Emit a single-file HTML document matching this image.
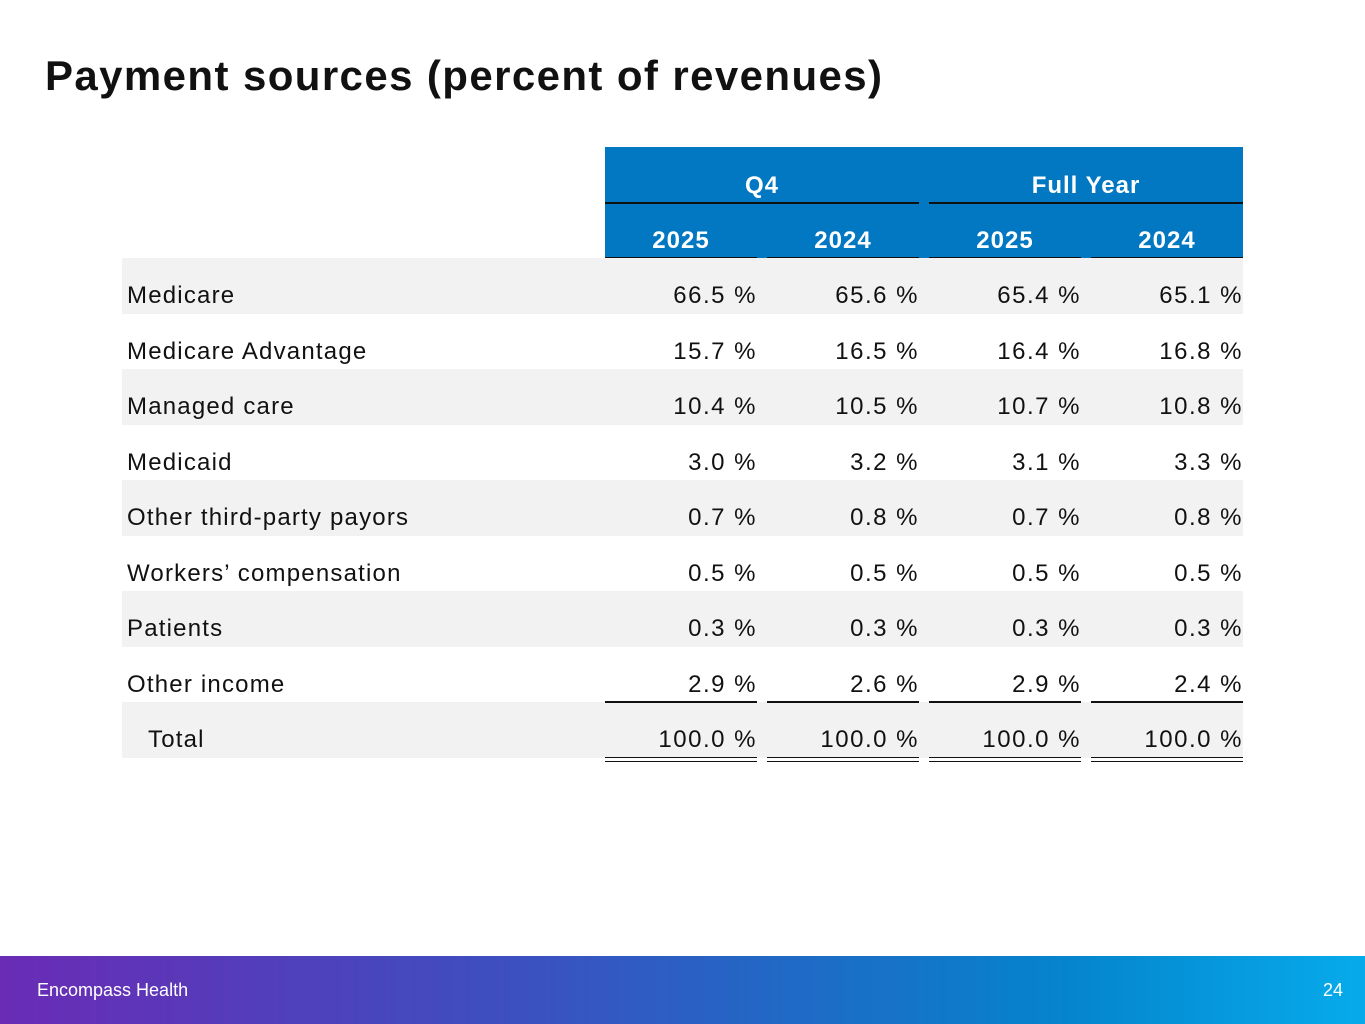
<!DOCTYPE html>
<html><head><meta charset="utf-8"><style>
body{margin:0;width:1365px;height:1024px;position:relative;background:#fff;font-family:"Liberation Sans",sans-serif;overflow:hidden}
.a{position:absolute}
#title{left:45px;top:52px;font-size:42px;letter-spacing:1.4px;font-weight:bold;color:#111;white-space:nowrap}
.hdr{background:#0277c2}
.ht{color:#fff;font-size:24px;font-weight:bold;text-align:center;letter-spacing:1px}
.row{left:122px;width:1121px;height:55.5px}
.lab{font-size:24px;color:#111;white-space:nowrap;letter-spacing:1.2px}
.val{font-size:24px;color:#111;text-align:right;width:152px;white-space:nowrap;letter-spacing:1.5px}
.ln{height:2px;background:#111}
#footer{left:0;top:956px;width:1365px;height:68px;background:linear-gradient(90deg,#6a2bb5 0%,#3c50bf 38%,#1d6cc6 60%,#0584cc 78%,#06abeb 100%)}
</style></head><body>
<div id="title" class="a">Payment sources (percent of revenues)</div>
<div class="a hdr" style="left:605px;top:147px;width:638px;height:111px"></div>
<div class="a ht" style="left:605px;top:172px;width:314px">Q4</div>
<div class="a ht" style="left:929px;top:172px;width:314px">Full Year</div>
<div class="a ln" style="left:605px;top:202px;width:314px"></div>
<div class="a ln" style="left:929px;top:202px;width:314px"></div>
<div id="tbl"></div>
<div id="footer" class="a">
<div class="a" style="left:37px;top:24px;color:#fff;font-size:18px">Encompass Health</div>
<div class="a" style="right:22px;top:24px;color:#fff;font-size:18px">24</div>
</div>
<script>
const years=["2025","2024","2025","2024"];
const labels=["Medicare","Medicare Advantage","Managed care","Medicaid","Other third-party payors","Workers’ compensation","Patients","Other income","Total"];
const q4_2025=[66.5,15.7,10.4,3.0,0.7,0.5,0.3,2.9,100.0];
const q4_2024=[65.6,16.5,10.5,3.2,0.8,0.5,0.3,2.6,100.0];
const fy_2025=[65.4,16.4,10.7,3.1,0.7,0.5,0.3,2.9,100.0];
const fy_2024=[65.1,16.8,10.8,3.3,0.8,0.5,0.3,2.4,100.0];
const series=[q4_2025,q4_2024,fy_2025,fy_2024];
const T=document.getElementById('tbl');
const colX=c=>605+c*162;
const rowY=r=>258+r*55.5;
function mk(cls,style,text){const d=document.createElement('div');d.className='a '+cls;d.setAttribute('style',style);if(text!==undefined)d.textContent=text;T.appendChild(d);return d;}
years.forEach((y,c)=>{
  const e=mk('ht',`left:${colX(c)}px;top:227px;width:152px`,y);
  
  
  const l=mk('ln',`left:${colX(c)}px;top:257px;width:152px`);
  
  
});
labels.forEach((lab,r)=>{
  const y=rowY(r);
  if(r%2===0){const g=mk('row',`top:${y}px;background:#f2f2f2`);
    
    }
  const t=mk('lab',`left:${r===labels.length-1?148:127}px;top:${y+24}px`,lab);
  
  
  series.forEach((s,c)=>{
    const v=mk('val',`left:${colX(c)}px;top:${y+24}px`,s[r].toFixed(1)+' %');
    
    
  });
});
series.forEach((s,c)=>{
  const l1=mk('ln',`left:${colX(c)}px;top:${rowY(8)-1}px;width:152px`);
  
  
  const l2=mk('ln',`left:${colX(c)}px;top:${rowY(9)-1}px;width:152px;height:1.5px`);
  
  
  const l3=mk('ln',`left:${colX(c)}px;top:${rowY(9)+3}px;width:152px;height:1.5px`);
  
  
});
</script>
</body></html>
